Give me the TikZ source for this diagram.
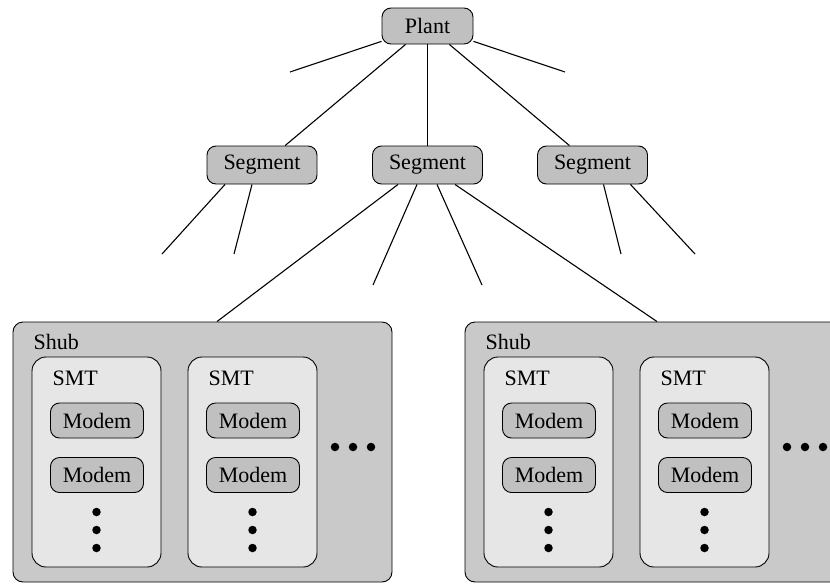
\documentclass[tikz,border=0pt]{standalone}
\usepackage{fontspec}
\setmainfont{Liberation Serif}
\definecolor{shubGray}{HTML}{C9C9C9}
\definecolor{smtGray}{HTML}{E6E6E6}
\definecolor{boxGray}{HTML}{C0C0C0}

\begin{document}
\begin{tikzpicture}[x=1pt,y=-1pt,font=\rmfamily\fontsize{22}{26}\selectfont,
    line width=1.1pt,
    box/.style={draw,line width=0.9pt,rounded corners=9pt,fill=boxGray,inner sep=0pt},
    plantbox/.style={box,minimum width=91pt,minimum height=36pt},
    segbox/.style={box,minimum width=110pt,minimum height=38pt},
    modembox/.style={box,minimum width=93pt,minimum height=35pt},
    shubbox/.style={draw,line width=0.9pt,rounded corners=10pt,fill=shubGray,
                    minimum width=379pt,minimum height=260pt},
    smtbox/.style={draw,line width=0.9pt,rounded corners=14pt,fill=smtGray,
                   minimum width=129pt,minimum height=210pt},
    lbl/.style={anchor=west,inner sep=0pt},
    dot/.style={circle,fill=black,inner sep=0pt,minimum size=8.5pt}]
  \clip[use as bounding box] (0,0) rectangle (830,584);

  % plant and segments
  \node[plantbox] (plant) at (427.5,26) {Plant};
  \node[segbox] (seg1) at (262,165) {Segment};
  \node[segbox] (seg2) at (427.5,165) {Segment};
  \node[segbox] (seg3) at (592.5,165) {Segment};

  % loose ends of the tree
  \coordinate (p1) at (290,72);
  \coordinate (p2) at (565,72);
  \coordinate (s1a) at (162,254);
  \coordinate (s1b) at (234,254);
  \coordinate (s2a) at (373,285);
  \coordinate (s2b) at (482,285);
  \coordinate (s3a) at (621,254);
  \coordinate (s3b) at (695,254);

  % shubs, each with two SMTs holding modems
  \foreach \i/\x in {1/0,2/452} {
    \node[shubbox] (shub\i) at (202.5+\x,452) {};
    \node[lbl] (shubl\i) at (33+\x,342) {Shub};
    \foreach \j/\y in {a/0,b/156} {
      \node[smtbox] (smt\i\j) at (96.5+\x+\y,462) {};
      \node[lbl] (smtl\i\j) at (52+\x+\y,378) {SMT};
      \node[modembox] (mdm\i\j1) at (97+\x+\y,420.5) {Modem};
      \node[modembox] (mdm\i\j2) at (97+\x+\y,475) {Modem};
      \foreach \k in {512,530,548}
        \node[dot] at (96.5+\x+\y,\k) {};
    }
    \foreach \k in {335,353,371}
      \node[dot] at (\k+\x,447) {};
  }

  \draw (plant) -- (p1);
  \draw (plant) -- (p2);
  \draw (plant) -- (seg1);
  \draw (plant) -- (seg2);
  \draw (plant) -- (seg3);
  \draw ([xshift=-37pt]seg1.south) -- (s1a);
  \draw ([xshift=-10pt]seg1.south) -- (s1b);
  \draw ([xshift=-10.5pt]seg2.south) -- (s2a);
  \draw ([xshift=9.5pt]seg2.south) -- (s2b);
  \draw ([xshift=11pt]seg3.south) -- (s3a);
  \draw ([xshift=38pt]seg3.south) -- (s3b);
  \draw ([xshift=-29.5pt]seg2.south) -- ([xshift=14.5pt]shub1.north);
  \draw ([xshift=27.5pt]seg2.south) -- ([xshift=2.5pt]shub2.north);
\end{tikzpicture}
\end{document}
